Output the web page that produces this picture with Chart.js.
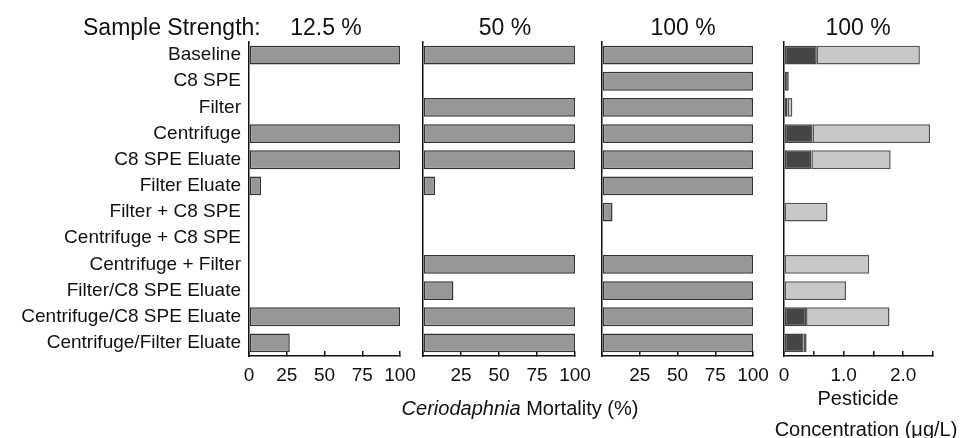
<!DOCTYPE html>
<html>
<head>
<meta charset="utf-8">
<script src="https://cdn.jsdelivr.net/npm/chart.js@4"></script>
<style>
  body { margin: 0; background: #fff; }
  #wrap { position: relative; width: 968px; height: 438px; font-family: 'Liberation Sans', Arial, sans-serif; color: #111; }
  canvas { position: absolute; left: 0; top: 0; }
  .t { position: absolute; white-space: nowrap; transform: translateX(-50%); }
  .big { font-size: 23px; top: 14px; }
  .ax { font-size: 20px; }
</style>
</head>
<body>
<div id="wrap">
  <canvas id="c1" width="968" height="438"></canvas>
  <canvas id="c2" width="968" height="438"></canvas>
  <canvas id="c3" width="968" height="438"></canvas>
  <canvas id="c4" width="968" height="438"></canvas>
  <div class="big" style="position:absolute;left:83px;top:14px;">Sample Strength:</div>
  <div class="t big" style="left:326px;">12.5 %</div>
  <div class="t big" style="left:505px;">50 %</div>
  <div class="t big" style="left:683px;">100 %</div>
  <div class="t big" style="left:858px;">100 %</div>
  <div class="t ax" style="left:520px;top:397px;"><i>Ceriodaphnia</i> Mortality (%)</div>
  <div class="t ax" style="left:858px;top:387px;">Pesticide</div>
  <div class="t ax" style="left:866px;top:418px;">Concentration (μg/L)</div>
</div>
<script>
// treatments, top to bottom
var categories = [
  'Baseline',
  'C8 SPE',
  'Filter',
  'Centrifuge',
  'C8 SPE Eluate',
  'Filter Eluate',
  'Filter + C8 SPE',
  'Centrifuge + C8 SPE',
  'Centrifuge + Filter',
  'Filter/C8 SPE Eluate',
  'Centrifuge/C8 SPE Eluate',
  'Centrifuge/Filter Eluate'
];

// Ceriodaphnia mortality (%) at each sample strength
var mortality12 = [100, 0, 0, 100, 100, 8, 0, 0, 0, 0, 100, 27];
var mortality50 = [100, 0, 100, 100, 100, 8, 0, 0, 100, 20, 100, 100];
var mortality100 = [100, 100, 100, 100, 100, 100, 7, 0, 100, 100, 100, 100];

// pesticide concentration (ug/L), dark and light parts of each bar
var pestDark = [0.55, 0.08, 0.06, 0.48, 0.46, 0, 0.01, 0, 0, 0, 0.37, 0.33];
var pestLight = [1.73, 0, 0.08, 1.97, 1.33, 0, 0.72, 0, 1.43, 1.04, 1.40, 0.05];

var mortTicks = [0, 25, 50, 75, 100];
var pestTicks = [0, 1, 2];

Chart.defaults.font.family = "'Liberation Sans', Arial, sans-serif";
Chart.defaults.color = '#111';

function makePanel(id, datasets, opts) {
  return new Chart(document.getElementById(id), {
    type: 'bar',
    data: { labels: categories, datasets: datasets },
    options: {
      indexAxis: 'y',
      responsive: false,
      animation: false,
      devicePixelRatio: 1,
      layout: { padding: { left: opts.left, right: opts.right, top: 42, bottom: 42 } },
      plugins: { legend: { display: false }, tooltip: { enabled: false } },
      scales: {
        x: {
          stacked: true,
          min: 0,
          max: opts.max,
          afterFit: function (s) { s.height = 40; },
          border: { display: true, color: '#111', width: 1.5 },
          grid: { drawOnChartArea: false, drawTicks: true, tickLength: -5, color: '#111', lineWidth: 1.5 },
          ticks: {
            stepSize: opts.step,
            padding: 13,
            maxRotation: 0,
            autoSkip: false,
            font: { size: 19 },
            callback: opts.label
          }
        },
        y: {
          stacked: true,
          afterFit: function (s) { s.width = opts.yWidth; },
          border: { display: true, color: '#111', width: 1.5 },
          grid: { display: false, drawTicks: false },
          ticks: { display: opts.showLabels, padding: 8, font: { size: 19 }, autoSkip: false }
        }
      }
    }
  });
}

function mortSet(values) {
  return [{
    data: values,
    backgroundColor: '#979797',
    borderColor: '#333',
    borderWidth: 1.5,
    borderSkipped: false,
    barPercentage: 0.72,
    categoryPercentage: 1
  }];
}

function mortLabel(first) {
  return function (v) {
    if (!first && v === 0) return '';
    return mortTicks.indexOf(v) >= 0 ? String(v) : '';
  };
}

makePanel('c1', mortSet(mortality12), { left: 0, right: 568, yWidth: 249, showLabels: true, max: 100, step: 25, label: mortLabel(true) });
makePanel('c2', mortSet(mortality50), { left: 423, right: 393, yWidth: 0, showLabels: false, max: 100, step: 25, label: mortLabel(false) });
makePanel('c3', mortSet(mortality100), { left: 602, right: 215, yWidth: 0, showLabels: false, max: 100, step: 25, label: mortLabel(false) });

makePanel('c4', [
  { data: pestDark, backgroundColor: '#454545', borderColor: '#444', borderWidth: 1.5, borderSkipped: false, barPercentage: 0.72, categoryPercentage: 1 },
  { data: pestLight, backgroundColor: '#c8c8c8', borderColor: '#555', borderWidth: 1.5, borderSkipped: false, barPercentage: 0.72, categoryPercentage: 1 }
], {
  left: 784, right: 35, yWidth: 0, showLabels: false, max: 2.5, step: 0.5,
  label: function (v) {
    if (v === 0) return '0';
    return pestTicks.indexOf(v) >= 0 ? v.toFixed(1) : '';
  }
});
</script>
</body>
</html>
